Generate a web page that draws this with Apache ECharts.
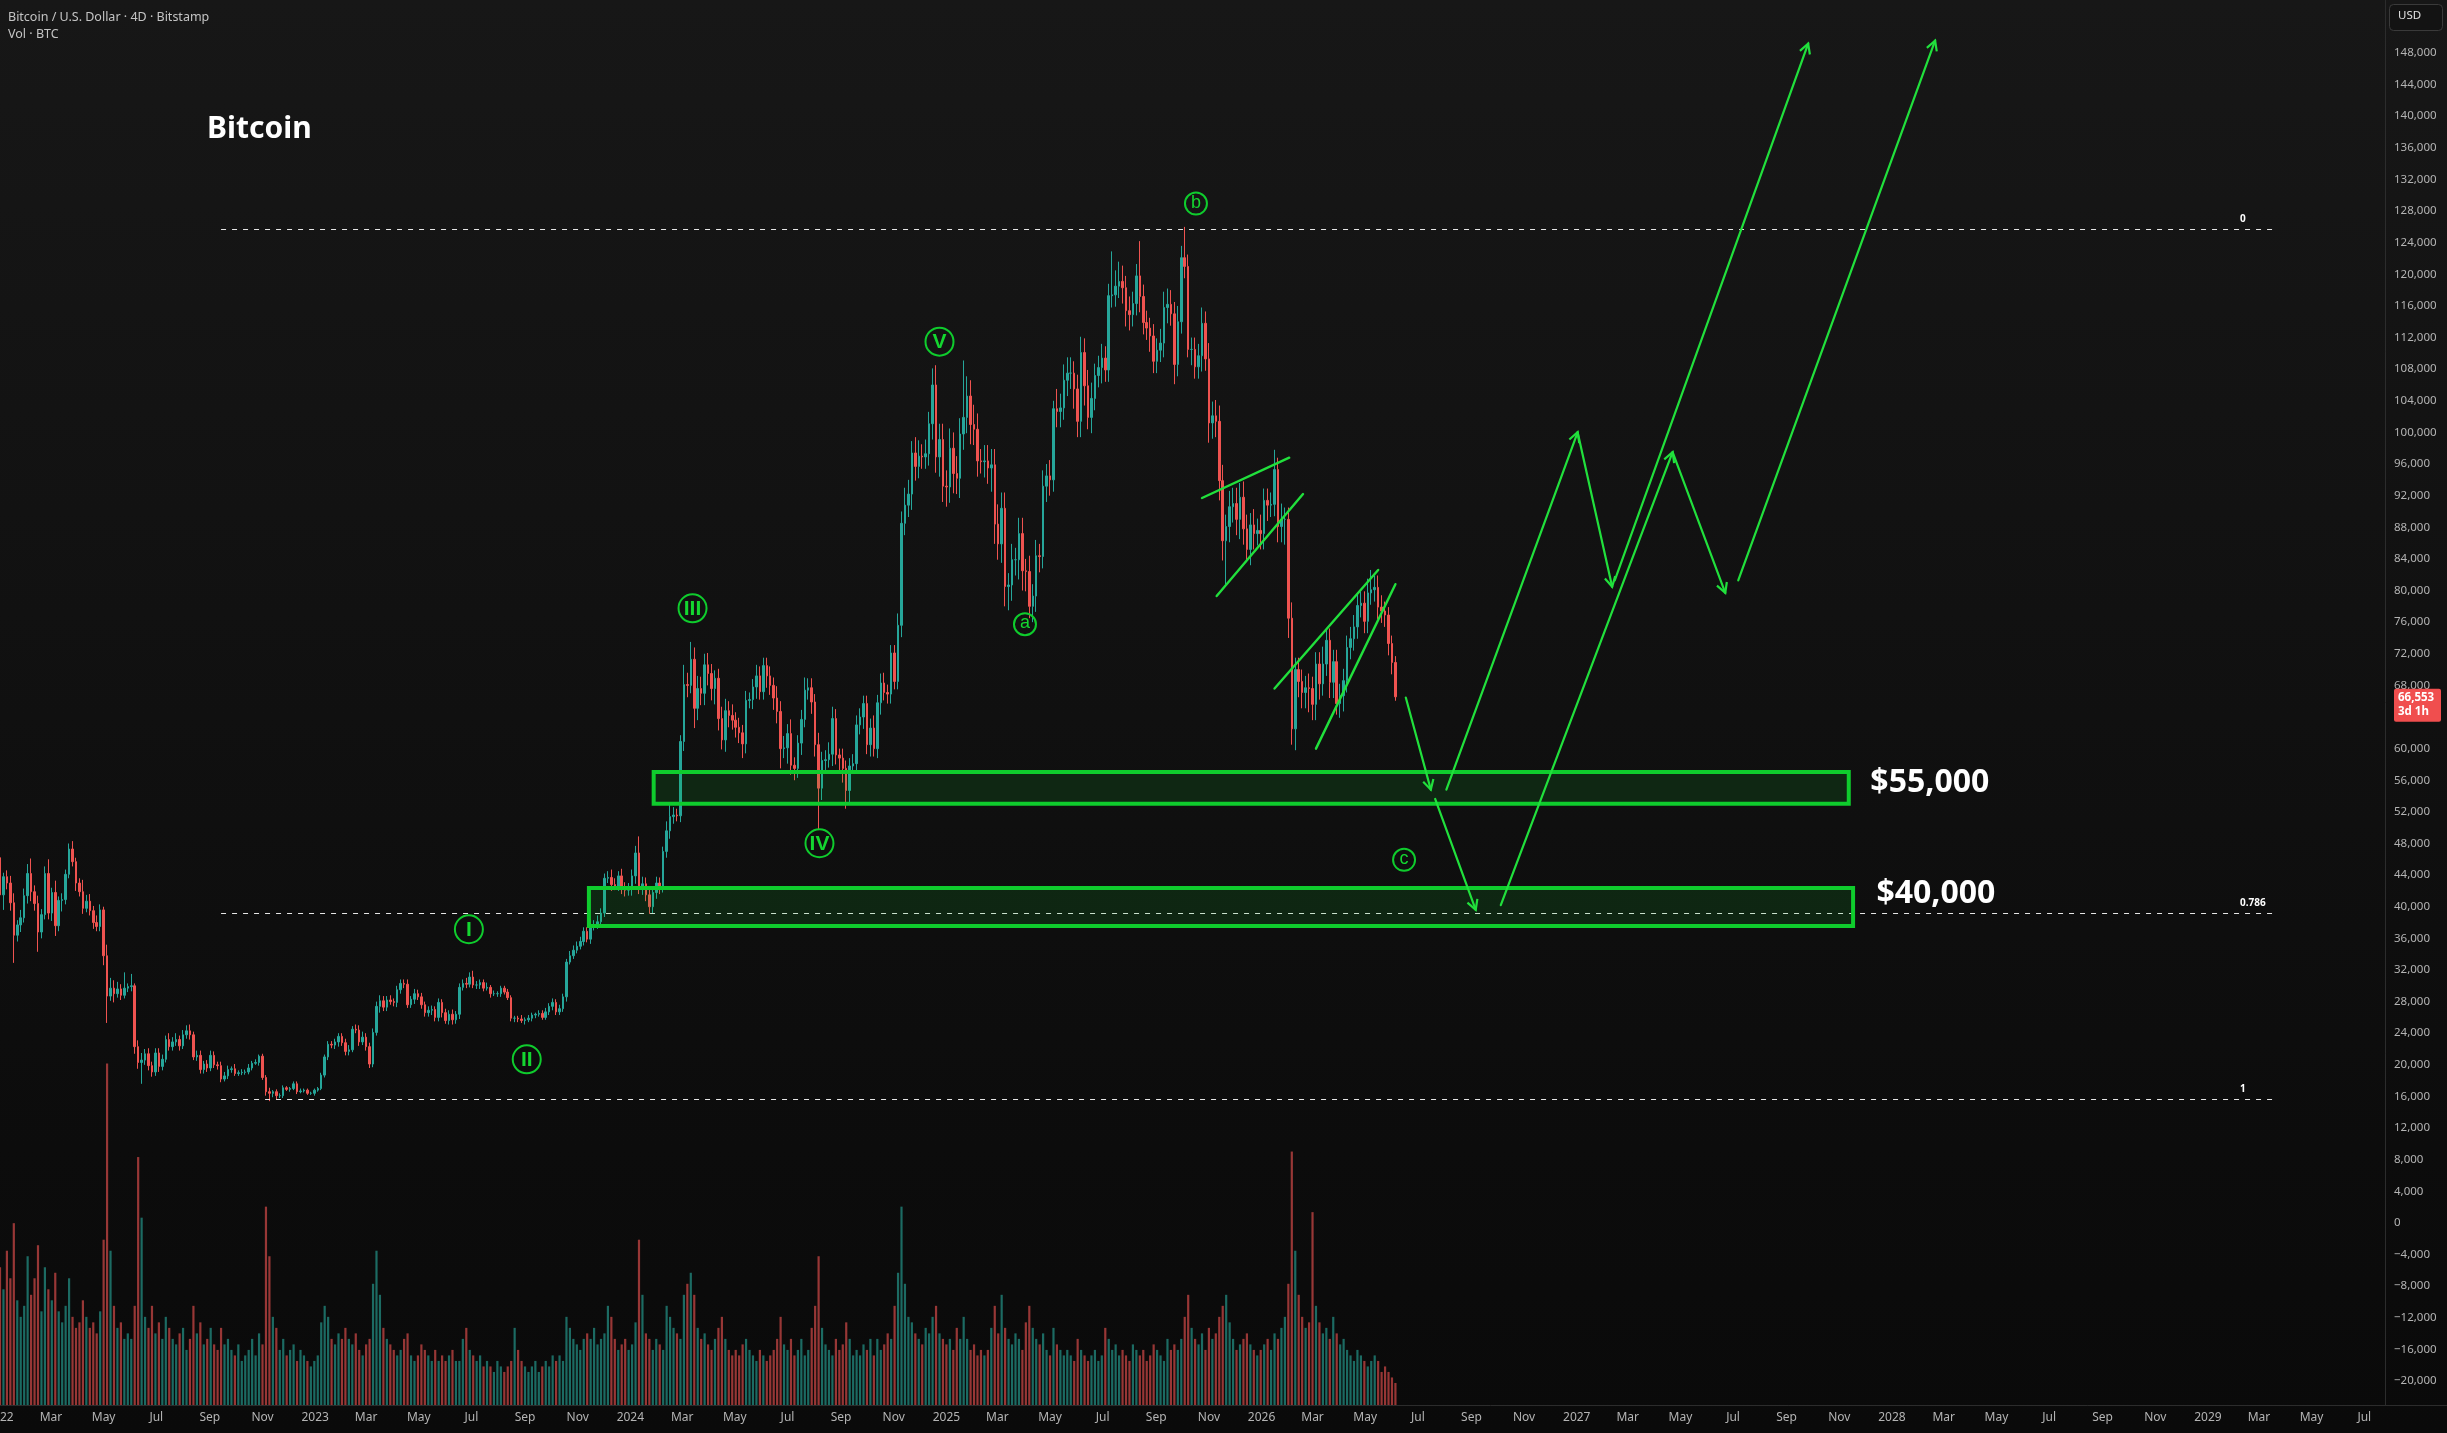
<!DOCTYPE html>
<html><head><meta charset="utf-8">
<script src="https://cdn.jsdelivr.net/npm/echarts@6/dist/echarts.min.js"></script>
<style>html,body{margin:0;padding:0;background:#0b0b0b;}#c{width:2447px;height:1433px;}</style>
</head><body><div id="c"></div>
<script>
// ---------- DATA (prices in thousands of USD, 4-day candles from 2022-01-01) ----------
const startDate = '2022-01-01';
const candleDays = 4;
const firstOpen = 46.2;
const closes = [
41.5,43.8,43.0,40.5,36.4,37.7,38.6,41.4,44.2,41.9,
40.4,36.8,39.0,44.2,39.2,41.8,37.6,40.8,40.9,44.1,
47.3,45.7,43.0,41.9,39.8,40.7,39.5,38.0,37.5,39.6,
33.8,28.7,29.7,29.0,29.6,28.8,29.7,29.9,30.0,22.3,
20.3,20.6,21.4,19.9,19.1,21.5,19.8,20.7,23.2,22.3,
22.9,23.2,22.4,23.8,24.3,23.8,21.0,21.2,19.4,20.1,
19.6,21.2,20.0,19.9,18.2,18.6,19.4,19.5,18.9,19.0,
19.05,19.1,19.6,20.2,20.3,21.1,18.4,16.6,16.4,16.6,
16.1,16.1,17.1,16.9,17.0,17.6,16.6,16.7,16.8,16.4,
16.4,16.8,17.0,18.7,21.0,22.6,22.5,22.9,23.6,
22.8,21.7,21.9,24.5,24.4,22.9,23.5,22.3,20.1,24.1,
27.4,28.1,27.3,28.2,28.0,27.9,29.5,30.3,30.2,27.6,
28.3,29.0,28.6,27.6,26.6,26.9,27.0,26.0,27.9,26.6,
25.6,26.4,25.7,26.4,29.8,30.3,30.2,31.1,30.1,30.1,
30.4,29.7,29.8,29.0,29.0,29.0,29.7,29.2,28.5,25.9,
25.9,25.8,25.6,25.7,25.9,26.3,26.4,26.5,26.0,26.7,
27.4,27.9,26.7,27.1,28.6,33.0,33.8,34.5,35.0,35.6,
36.9,35.9,37.4,37.7,38.1,39.2,43.6,43.7,42.8,42.6,
43.9,42.3,42.1,42.3,43.9,46.8,42.5,42.9,41.5,40.0,
41.8,43.0,42.5,47.0,49.6,51.4,51.6,51.5,60.9,68.1,
68.0,71.3,
65.1,67.6,67.0,70.6,69.5,67.6,68.9,63.8,61.1,64.8,
64.2,63.6,62.7,62.0,60.6,66.1,66.2,67.8,69.2,67.2,
70.5,69.2,68.0,66.4,64.7,60.0,60.1,61.9,57.9,57.5,
60.7,63.7,67.4,67.7,65.9,60.5,55.0,58.5,58.6,59.3,
63.8,59.2,58.8,57.5,54.7,57.8,58.1,63.0,64.0,65.7,
60.5,62.6,60.0,65.8,68.3,67.1,66.9,72.1,68.5,75.6,
88.5,90.8,92.2,97.4,95.7,97.0,96.9,97.3,101.1,106.0,
96.9,99.1,93.2,93.1,98.0,94.8,94.2,99.8,101.9,104.6,
101.0,100.4,96.4,96.3,96.4,95.5,95.9,88.4,85.9,90.4,
80.5,80.7,83.9,83.9,87.2,82.5,82.4,78.0,79.3,84.4,
84.3,93.2,94.5,94.0,
103.0,
102.65,103.1,106.6,107.5,107.5,105.5,101.4,110.1,105.9,101.9,
104.3,107.2,108.2,109.4,107.9,117.3,117.4,118.5,119.1,118.3,
115.4,114.9,116.3,119.8,117.2,113.9,113.2,112.2,109.0,110.4,
111.3,115.8,116.2,115.0,108.6,114.0,122.1,121.0,110.5,110.5,
108.3,109.7,113.8,109.3,101.2,102.1,101.4,93.9,86.3,88.1,
90.6,91.0,89.0,91.8,87.8,85.2,88.3,87.2,87.6,87.2,
91.4,90.8,90.9,95.3,88.1,89.0,89.0,76.5,62.5,70.0,
68.5,67.1,67.7,67.6,65.6,70.7,68.2,70.7,73.7,68.4,
71.0,65.7,66.7,68.6,72.8,73.9,75.4,78.1,78.4,76.1,
79.7,80.1,80.4,77.9,77.4,76.9,73.3,70.9,66.553
];
const upperWicks = [
1.0,0.5,0.8,0.9,1.2,0.6,1.0,0.9,1.2,1.9, 0.8,1.0,0.7,0.9,1.8,0.6,1.5,0.5,0.8,0.6,
0.7,1.0,0.5,0.6,1.5,0.8,0.9,0.6,0.9,0.7, 0.4,1.4,1.3,1.0,0.9,0.6,2.0,0.4,1.5,0.3,
0.8,0.9,0.6,0.7,0.5,0.6,0.6,0.6,0.5,0.8, 0.6,0.8,0.5,0.6,0.7,0.8,0.4,0.6,0.6,0.4,
0.5,0.6,0.5,0.4,0.5,0.5,0.5,0.3,0.6,0.3, 0.4,0.3,0.5,0.3,0.4,0.2,0.3,0.3,0.5,0.2,
0.3,0.3,0.3,0.2,0.2,0.3,0.3,0.3,0.2,0.2, 0.2,0.2,0.2,0.3,0.3,0.4,0.4,0.4,0.4,0.4,
0.5,0.6,0.4,0.6,0.6,0.7,0.5,0.5,0.5,0.6, 0.7,0.6,0.5,0.6,0.4,0.5,0.5,0.5,0.6,0.4,
0.6,0.5,0.5,0.4,0.5,0.5,0.4,0.5,0.4,0.5, 0.5,0.6,0.4,0.5,0.5,0.7,0.6,0.8,0.5,0.4,
0.4,0.6,0.3,0.4,0.3,0.3,0.3,0.4,0.3,0.3, 0.3,0.5,0.3,0.4,0.3,0.2,0.4,0.4,0.5,0.4,
0.5,0.4,0.5,0.4,0.4,0.6,0.6,0.6,0.6,0.5, 0.5,1.0,0.6,0.8,0.6,0.6,0.8,1.0,0.8,0.6,
0.9,0.8,0.7,0.8,0.9,2.1,0.9,0.8,0.7,0.7, 0.8,0.7,0.6,1.2,1.5,1.0,0.8,0.8,2.5,1.5,
2.2,1.5,1.6,1.5,1.4,1.5,1.2,1.0,1.2,1.5, 1.5,1.2,1.4,1.0,1.2,1.0,1.2,0.9,1.0,1.4,
1.2,1.0,1.0,1.2,1.0,1.5,1.3,1.5,1.2,1.8, 1.0,1.0,1.2,1.6,1.2,1.2,1.0,1.5,1.1,1.2,
1.5,1.5,1.2,0.8,1.2,1.0,1.0,1.2,1.2,1.1, 1.0,1.0,1.2,1.6,1.0,1.2,1.3,1.0,1.0,1.0,
1.5,1.5,2.2,1.8,1.5,2.0,2.0,1.5,1.8,1.5, 2.1,2.5,2.0,2.0,2.0,2.5,2.0,2.2,2.0,7.2,
2.5,2.0,2.5,2.0,1.5,2.0,2.0,2.0,2.0,2.5, 2.0,2.0,1.5,2.0,1.5,2.0,2.0,1.5,2.0,1.5,
2.0,1.5,2.0,1.5,2.0,1.0,2.5,1.8,2.0,2.0, 2.0,1.5,1.8,2.0,1.8,2.0,2.0,1.5,1.5,1.8,
1.5,1.5,5.5,2.0,2.5,2.0,1.5,1.8,1.5,1.5, 4.4,1.5,1.5,1.3,1.5,1.5,1.8,2.0,2.0,1.8,
1.5,2.0,1.5,3.9,1.5,1.5,1.5,1.5,2.0,1.5, 2.0,1.8,2.0,2.0,2.0,1.5,2.0,2.0,2.0,1.8,
2.0,1.8,1.5,2.0,1.5,2.0,1.5,1.5,1.5,2.5, 1.5,2.0,1.5,1.5,2.0,1.5,1.5,1.5,1.5,1.8,
1.5,1.5,1.5,2.2,1.5,1.5,1.5,1.5,1.5,1.5, 1.5,1.5,1.5,1.5,1.5,1.5,1.8,2.5,1.5,1.5,
1.5,1.2,1.0,1.0,0.8
];
const lowerWicks = [
1.1,1.9,0.8,1.0,3.5,0.8,0.9,0.6,1.0,1.2, 0.9,2.5,0.8,0.6,0.8,1.0,1.3,0.7,1.4,0.6,
0.5,0.6,1.0,0.6,0.7,0.5,0.6,0.8,0.6,0.6, 1.2,3.4,0.6,1.1,0.5,0.6,0.4,0.5,0.6,0.9,
0.8,2.7,0.6,0.6,0.6,0.5,0.7,0.5,0.4,0.5, 0.5,0.5,0.6,0.4,0.5,0.6,0.4,0.5,0.5,0.5,
0.5,0.4,0.4,0.5,0.4,0.3,0.4,0.4,0.3,0.3, 0.3,0.3,0.3,0.3,0.2,0.4,0.3,0.5,1.0,0.5,
0.5,0.3,0.3,0.2,0.3,0.2,0.3,0.2,0.2,0.2, 0.2,0.3,0.2,0.2,0.3,0.4,0.4,0.5,0.6,0.4,
0.5,0.5,0.3,0.4,0.5,0.4,0.5,0.5,0.4,0.4, 0.8,0.5,0.5,0.4,0.5,0.6,0.5,0.5,0.4,0.4,
0.6,0.4,0.5,0.5,0.5,0.6,0.5,0.5,0.6,0.4, 0.5,0.6,0.5,0.6,0.4,0.5,0.4,0.4,0.5,0.5,
0.4,0.3,0.5,0.3,0.4,0.4,0.3,0.3,0.4,0.5, 0.4,0.3,0.5,0.3,0.4,0.4,0.3,0.3,0.3,0.4,
0.5,0.4,0.4,0.4,0.6,0.3,0.4,0.4,0.4,0.5, 0.4,0.6,0.4,0.5,0.4,0.5,0.6,0.8,0.5,0.6,
0.7,0.8,0.7,0.9,1.0,0.9,1.0,0.8,0.9,0.8, 0.8,0.9,0.7,0.8,1.0,0.9,0.7,0.8,1.2,1.5,
1.0,2.5,1.5,1.5,1.5,1.5,1.5,2.0,1.5,1.2, 1.5,1.5,1.2,1.3,1.3,1.8,1.2,1.0,1.2,1.5,
1.0,1.0,1.5,1.2,1.5,1.5,2.5,1.2,2.0,1.2, 1.5,1.2,1.5,1.0,1.2,1.5,1.5,5.3,1.5,1.2,
1.0,1.5,1.2,1.5,1.8,2.3,1.5,1.0,1.2,1.2, 1.5,1.2,1.5,1.0,1.2,1.5,1.0,1.2,1.2,1.0,
1.0,1.5,1.5,1.5,2.0,1.8,1.5,1.5,1.5,1.5, 2.0,2.0,2.5,2.0,2.5,2.0,2.5,2.0,2.5,2.0,
2.0,2.5,2.0,2.0,1.5,2.0,2.0,3.0,2.5,2.0, 2.4,2.5,3.0,2.0,2.0,2.5,2.5,2.5,1.5,2.0,
2.0,2.0,1.5,2.0,2.0,1.5,2.0,2.0,1.5,2.0, 2.0,2.5,2.0,2.0,2.5,1.5,2.0,1.5,1.5,2.0,
1.5,1.5,1.5,1.5,1.5,2.0,2.0,2.0,1.5,1.5, 2.0,1.5,1.5,2.0,1.5,1.5,1.5,1.8,2.0,1.5,
2.5,1.5,1.5,1.5,1.0,2.0,1.5,1.5,2.0,1.5, 2.5,2.0,2.0,2.5,2.5,5.7,2.0,2.0,2.0,2.5,
2.0,1.5,2.0,2.0,1.5,2.0,2.0,2.0,1.5,1.5, 2.0,2.0,3.2,2.5,2.0,2.7,2.0,2.0,2.0,3.0,
2.0,2.0,2.0,1.5,1.5,2.0,2.0,1.4,1.8,2.0, 1.5,1.5,1.5,1.5,1.5,1.5,1.5,1.5,1.5,1.5,
1.5,1.5,1.5,1.5,0.5
];
// volume, thousands of BTC per candle
const volumes = [
25,21,28,23,33,19,16,18,27,20, 23,29,17,25,21,19,24,17,15,18,
23,16,14,15,19,16,14,15,13,17, 30,62,28,18,14,15,12,13,12,18,
45,34,16,14,18,13,15,12,16,14, 12,11,13,14,10,12,18,13,15,11,
12,14,11,10,14,11,12,10,9,11, 8,9,10,12,9,13,11,36,27,16,
14,10,12,9,10,11,8,10,9,8, 7,8,9,15,18,16,12,11,13,12,
14,12,11,13,10,9,11,12,22,28, 20,14,12,11,10,9,10,12,13,9,
8,9,11,10,9,8,10,8,9,8, 9,10,8,8,12,14,10,9,8,9,
7,8,7,6,8,7,6,7,8,14, 10,8,7,6,7,8,6,7,8,7,
9,8,9,8,16,14,12,11,10,12, 13,12,14,11,12,13,18,16,12,10,
11,12,10,11,15,30,20,13,12,10, 12,11,10,18,16,14,13,12,20,22,
24,20,14,12,13,11,10,12,14,16, 12,10,9,10,9,11,12,10,9,8,
10,9,8,9,10,12,16,11,10,12, 9,10,12,9,10,14,18,27,14,11,
10,9,12,10,11,15,12,9,10,9, 11,10,12,9,12,10,11,13,12,18,
24,36,22,16,15,13,12,11,14,13, 16,18,13,12,11,12,10,14,12,16,
12,10,11,9,10,9,10,14,18,13, 20,14,12,11,13,12,10,15,18,14,
12,11,13,10,9,14,11,10,9,10, 9,8,12,10,9,8,9,10,8,9,
14,12,10,11,9,10,9,8,11,10, 9,10,8,9,11,10,9,8,12,10,
11,10,12,16,20,14,12,11,13,10, 14,12,13,16,18,20,15,12,10,11,
12,13,11,10,9,10,11,12,10,13, 12,14,16,22,46,28,20,16,14,15,
35,18,15,13,14,12,16,13,11,12, 10,9,8,10,9,8,7,8,9,8,
6,7,6,5,4
];
const countdownText = '3d 1h';

// axis ticks
const xTickMonths = [
'2022-01','2022-03','2022-05','2022-07','2022-09','2022-11',
'2023-01','2023-03','2023-05','2023-07','2023-09','2023-11',
'2024-01','2024-03','2024-05','2024-07','2024-09','2024-11',
'2025-01','2025-03','2025-05','2025-07','2025-09','2025-11',
'2026-01','2026-03','2026-05','2026-07','2026-09','2026-11',
'2027-01','2027-03','2027-05','2027-07','2027-09','2027-11',
'2028-01','2028-03','2028-05','2028-07','2028-09','2028-11',
'2029-01','2029-03','2029-05','2029-07'];
const xTickLabels = [
'2022','Mar','May','Jul','Sep','Nov','2023','Mar','May','Jul','Sep','Nov',
'2024','Mar','May','Jul','Sep','Nov','2025','Mar','May','Jul','Sep','Nov',
'2026','Mar','May','Jul','Sep','Nov','2027','Mar','May','Jul','Sep','Nov',
'2028','Mar','May','Jul','Sep','Nov','2029','Mar','May','Jul'];
const yTicks = [-20,-16,-12,-8,-4,0,4,8,12,16,20,24,28,32,36,40,44,48,52,56,60,64,68,72,76,80,84,88,92,96,100,104,108,112,116,120,124,128,132,136,140,144,148];
const xEndDate = '2029-07-25';
const yMin = -23.03, yMax = 154.7;
const volMax = 255;

// annotations
const waveLabels = ['I','II','III','IV','V','a','b','c'];
const waveDates = ['2023-06-28','2023-09-03','2024-03-13','2024-08-07','2024-12-24','2025-04-02','2025-10-17','2026-06-15'];
const wavePrices = [37.15,20.70,77.75,48.03,111.48,75.73,128.95,45.93];

const fibLevels = [0, 0.786, 1];
const fibPriceAt0 = 125.7, fibPriceAt1 = 15.7;
const fibStartDate = '2022-09-14', fibEndDate = '2029-03-20', fibLabelDate = '2029-02-07';

const zoneStartDates = ['2024-01-28','2023-11-14'];
const zoneEndDates = ['2027-11-12','2027-11-17'];
const zoneTops = [57.05, 42.37];
const zoneBottoms = [53.03, 37.56];
const zoneLabels = ['$55,000','$40,000'];
const zoneLabelDates = ['2027-12-07','2027-12-14'];
const zoneLabelPrices = [55.65, 41.6];

const wedgeStartDates = ['2025-10-24','2025-11-10','2026-01-16','2026-03-05'];
const wedgeStartPrices = [91.7, 79.3, 67.6, 60.0];
const wedgeEndDates = ['2026-02-02','2026-02-18','2026-05-16','2026-06-05'];
const wedgeEndPrices = [96.8, 92.2, 82.6, 80.8];

const arrowStartDates = ['2026-06-17','2026-07-21','2026-08-03','2027-01-02','2027-02-14','2026-10-05','2027-04-22','2027-07-07'];
const arrowStartPrices = [66.46, 53.63, 54.81, 100.02, 81.27, 40.2, 97.5, 81.27];
const arrowEndDates = ['2026-07-16','2026-09-06','2027-01-02','2027-02-11','2027-09-26','2027-04-22','2027-06-22','2028-02-20'];
const arrowEndPrices = [54.81, 39.61, 100.02, 80.48, 149.18, 97.5, 79.7, 149.57];

// ---------- BUILD ----------
const T0 = Date.parse(startDate + 'T00:00:00Z');
const dayOf = s => (Date.parse((s.length === 7 ? s + '-01' : s) + 'T00:00:00Z') - T0) / 864e5;
const fmtK = v => { const s = Math.round(Math.abs(v) * 1000).toLocaleString('en-US'); return v < 0 ? '\u2212' + s : (v === 0 ? '0' : s); };

const UP = '#26a69a', DN = '#ef5350';
const VUP = 'rgba(38,166,154,0.62)', VDN = 'rgba(239,83,80,0.62)';
const GREEN = '#0fcc2d', GREEN_LINE = '#21e03c';
const FONT = '"Noto Sans", "Open Sans", sans-serif';
const LABEL_FONT = '"Liberation Sans", Arial, sans-serif';

const candles = [], vols = [];
let prev = firstOpen;
closes.forEach((c, i) => {
  const o = prev, d = i * candleDays;
  const hi = Math.max(o, c) + (upperWicks[i] || 0);
  const lo = Math.min(o, c) - (lowerWicks[i] || 0);
  candles.push([d, o, c, lo, hi]);
  vols.push({ value: [d, volumes[i] || 0], itemStyle: { color: c >= o ? VUP : VDN } });
  prev = c;
});
const lastDay = (closes.length - 1) * candleDays;
const lastClose = closes[closes.length - 1];

const xTickDays = xTickMonths.map(dayOf);
const labelByDay = {};
xTickDays.forEach((d, i) => { labelByDay[Math.round(d)] = xTickLabels[i]; });
const xMax = dayOf(xEndDate);

const chart = echarts.init(document.getElementById('c'), null, { renderer: 'canvas' });

const option = {
  animation: false,
  backgroundColor: { type: 'linear', x: 0, y: 0, x2: 0, y2: 1, colorStops: [
    { offset: 0, color: '#171717' }, { offset: 0.5, color: '#101010' }, { offset: 0.8, color: '#0c0c0c' }, { offset: 1, color: '#0a0a0a' }] },
  grid: { left: 0, right: 62, top: 0, bottom: 28, containLabel: false, outerBoundsMode: 'none' },
  xAxis: {
    type: 'value', min: 0, max: xMax,
    axisLine: { show: true, onZero: false, lineStyle: { color: '#2c2c2c', width: 1 } },
    axisTick: { show: false }, splitLine: { show: false },
    axisLabel: { customValues: xTickDays, formatter: v => labelByDay[Math.round(v)] || '', color: '#b4b4b4', fontSize: 12, fontFamily: FONT, margin: 7 }
  },
  yAxis: [
    { type: 'value', position: 'right', min: yMin, max: yMax, scale: true,
      axisLine: { show: true, onZero: false, lineStyle: { color: '#2c2c2c', width: 1 } },
      axisTick: { show: false }, splitLine: { show: false },
      axisLabel: { customValues: yTicks, formatter: fmtK, color: '#b4b4b4', fontSize: 11.5, fontFamily: FONT, margin: 9, align: 'left' } },
    { type: 'value', min: 0, max: volMax, show: false }
  ],
  graphic: [
    { type: 'text', left: 8, top: 11, style: { text: 'Bitcoin / U.S. Dollar \u00b7 4D \u00b7 Bitstamp', fill: '#c4c4c4', font: '12.5px ' + FONT } },
    { type: 'text', left: 8, top: 28, style: { text: 'Vol \u00b7 BTC', fill: '#c4c4c4', font: '12.5px ' + FONT } },
    { type: 'text', left: 207, top: 114, style: { text: 'Bitcoin', fill: '#ffffff', font: 'bold 30px ' + FONT } },
    { type: 'rect', left: 2389, top: 4, shape: { width: 53, height: 26, r: 4 }, style: { fill: '#131313', stroke: '#3a3a3a', lineWidth: 1 } },
    { type: 'text', left: 2398, top: 10, style: { text: 'USD', fill: '#e0e0e0', font: '11.5px ' + FONT } },
    { type: 'line', shape: { x1: 2385, y1: 1405.5, x2: 2447, y2: 1405.5 }, style: { stroke: '#2c2c2c', lineWidth: 1 } }
  ],
  series: [
    { type: 'bar', name: 'vol', xAxisIndex: 0, yAxisIndex: 1, data: vols, barWidth: 2.2, z: 1, large: false, silent: true },
    { type: 'candlestick', name: 'BTC', xAxisIndex: 0, yAxisIndex: 0, data: candles,
      dimensions: ['day', 'open', 'close', 'low', 'high'], encode: { x: 0, y: [1, 2, 3, 4] },
      barWidth: 2, z: 3,
      itemStyle: { color: UP, color0: DN, borderColor: UP, borderColor0: DN, borderWidth: 1 } },
    // fib retracement lines
    { type: 'custom', z: 4, clip: false, silent: true,
      data: fibLevels.map(r => [dayOf(fibStartDate), dayOf(fibEndDate), fibPriceAt0 + r * (fibPriceAt1 - fibPriceAt0), r]),
      renderItem: (p, api) => {
        const a = api.coord([api.value(0), api.value(2)]), b = api.coord([api.value(1), api.value(2)]);
        const lx = api.coord([dayOf(fibLabelDate), api.value(2)])[0];
        return { type: 'group', children: [
          { type: 'line', shape: { x1: a[0], y1: Math.round(a[1]) + 0.5, x2: b[0], y2: Math.round(a[1]) + 0.5 }, style: { stroke: '#e6e6e6', lineWidth: 1, lineDash: [5, 6] } },
          { type: 'text', style: { text: String(fibLevels[p.dataIndex]), x: lx, y: a[1] - 5, fill: '#ffffff', font: 'bold 10px ' + FONT, verticalAlign: 'bottom', align: 'left' } }
        ] };
      } },
    // support zones
    { type: 'custom', z: 5, clip: false, silent: true,
      data: zoneTops.map((t, i) => [dayOf(zoneStartDates[i]), dayOf(zoneEndDates[i]), t, zoneBottoms[i]]),
      renderItem: (p, api) => {
        const a = api.coord([api.value(0), api.value(2)]), b = api.coord([api.value(1), api.value(3)]);
        return { type: 'rect', shape: { x: a[0], y: a[1], width: b[0] - a[0], height: b[1] - a[1] },
          style: { fill: 'rgba(15,204,45,0.13)', stroke: GREEN, lineWidth: 4 } };
      } },
    { type: 'custom', z: 6, clip: false, silent: true,
      data: zoneLabels.map((t, i) => [dayOf(zoneLabelDates[i]), zoneLabelPrices[i]]),
      renderItem: (p, api) => {
        const a = api.coord([api.value(0), api.value(1)]);
        return { type: 'text', style: { text: zoneLabels[p.dataIndex], x: a[0], y: a[1], fill: '#ffffff', font: 'bold 32px ' + FONT, verticalAlign: 'middle', align: 'left' } };
      } },
    // wedge lines
    { type: 'custom', z: 6, clip: false, silent: true,
      data: wedgeStartDates.map((d, i) => [dayOf(d), wedgeStartPrices[i], dayOf(wedgeEndDates[i]), wedgeEndPrices[i]]),
      renderItem: (p, api) => {
        const a = api.coord([api.value(0), api.value(1)]), b = api.coord([api.value(2), api.value(3)]);
        return { type: 'line', shape: { x1: a[0], y1: a[1], x2: b[0], y2: b[1] }, style: { stroke: GREEN_LINE, lineWidth: 2.4, lineCap: 'round' } };
      } },
    // arrows
    { type: 'custom', z: 6, clip: false, silent: true,
      data: arrowStartDates.map((d, i) => [dayOf(d), arrowStartPrices[i], dayOf(arrowEndDates[i]), arrowEndPrices[i]]),
      renderItem: (p, api) => {
        const a = api.coord([api.value(0), api.value(1)]), b = api.coord([api.value(2), api.value(3)]);
        const ang = Math.atan2(b[1] - a[1], b[0] - a[0]), L = 11, s = 0.5;
        const h1 = [b[0] - L * Math.cos(ang - s), b[1] - L * Math.sin(ang - s)];
        const h2 = [b[0] - L * Math.cos(ang + s), b[1] - L * Math.sin(ang + s)];
        return { type: 'group', children: [
          { type: 'line', shape: { x1: a[0], y1: a[1], x2: b[0], y2: b[1] }, style: { stroke: GREEN_LINE, lineWidth: 2.2, lineCap: 'round' } },
          { type: 'polyline', shape: { points: [h1, b, h2] }, style: { stroke: GREEN_LINE, lineWidth: 2.2, fill: null, lineJoin: 'miter' } }
        ] };
      } },
    // Elliott wave labels
    { type: 'custom', z: 7, clip: false, silent: true,
      data: waveLabels.map((t, i) => [dayOf(waveDates[i]), wavePrices[i]]),
      renderItem: (p, api) => {
        const a = api.coord([api.value(0), api.value(1)]);
        const t = waveLabels[p.dataIndex], small = t === t.toLowerCase();
        const r = small ? 11 : 14;
        return { type: 'group', children: [
          { type: 'circle', shape: { cx: a[0], cy: a[1], r: r }, style: { fill: 'rgba(0,0,0,0)', stroke: GREEN, lineWidth: 2 } },
          { type: 'text', style: { text: t, x: a[0], y: a[1] + (small ? -1 : 1), fill: '#14d630', font: (small ? '18px ' : 'bold 21px ') + LABEL_FONT, align: 'center', verticalAlign: 'middle' } }
        ] };
      } },
    // last price tag
    { type: 'custom', z: 8, clip: false, silent: true,
      data: [[lastDay, lastClose]],
      renderItem: (p, api) => {
        const a = api.coord([xMax, api.value(1)]);
        return { type: 'group', children: [
          { type: 'rect', shape: { x: a[0] + 9, y: a[1] - 8, width: 47, height: 33, r: 2 }, style: { fill: '#f04e4e' } },
          { type: 'text', style: { text: fmtK(api.value(1)), x: a[0] + 13, y: a[1] + 1, fill: '#ffffff', font: 'bold 11.5px ' + FONT, verticalAlign: 'middle', align: 'left' } },
          { type: 'text', style: { text: countdownText, x: a[0] + 13, y: a[1] + 15, fill: '#ffffff', font: 'bold 11.5px ' + FONT, verticalAlign: 'middle', align: 'left' } }
        ] };
      } }
  ]
};
chart.setOption(option);
</script></body></html>
